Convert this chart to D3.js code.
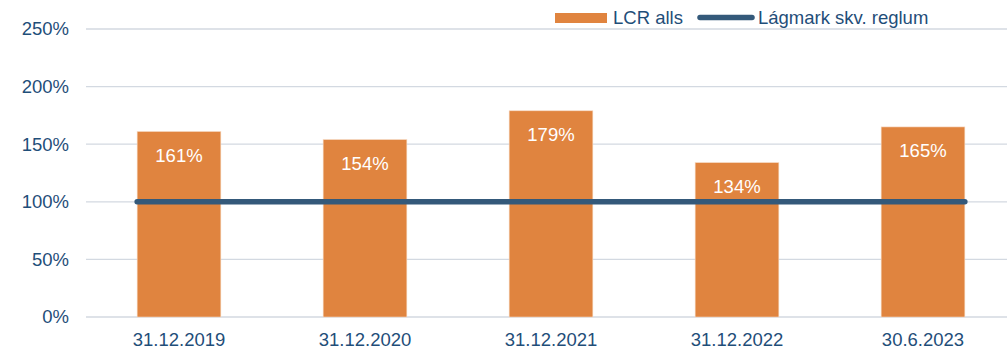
<!DOCTYPE html>
<html>
<head>
<meta charset="utf-8">
<script src="https://cdn.jsdelivr.net/npm/d3@7"></script>
<style>
  html, body { margin: 0; padding: 0; background: #fff; }
  svg { display: block; font-family: "Liberation Sans", Arial, sans-serif; }
</style>
</head>
<body>
<svg id="chart" width="1007" height="351"></svg>
<script>
// LCR ratio by reporting date, with the regulatory minimum as a reference line
const categories = ["31.12.2019", "31.12.2020", "31.12.2021", "31.12.2022", "30.6.2023"];
const lcrValues = [161, 154, 179, 134, 165];
const minimumValues = [100, 100, 100, 100, 100];
const yTicks = [0, 50, 100, 150, 200, 250];
const seriesNames = ["LCR alls", "Lágmark skv. reglum"];

const barColor = "#e0843f";
const lineColor = "#34597a";
const textColor = "#1f4e79";
const gridColor = "#d3d9e1";
const fontSize = 18.5;

const svg = d3.select("#chart");
const plot = { left: 86, right: 1016, top: 29, bottom: 317 };

const x = d3.scaleBand().domain(categories).range([plot.left, plot.right]).paddingInner(0.55).paddingOuter(0.275);
const y = d3.scaleLinear().domain([0, 250]).range([plot.bottom, plot.top]);

// Horizontal gridlines
svg.append("g").selectAll("line").data(yTicks).join("line")
  .attr("x1", plot.left).attr("x2", 1007)
  .attr("y1", d => y(d)).attr("y2", d => y(d))
  .attr("stroke", gridColor).attr("stroke-width", 1.3);

// Y axis labels
svg.append("g").selectAll("text").data(yTicks).join("text")
  .attr("x", 69).attr("y", d => y(d)).attr("dy", "0.35em")
  .attr("text-anchor", "end").attr("fill", textColor).attr("font-size", fontSize)
  .text(d => d + "%");

// X axis labels
svg.append("g").selectAll("text").data(categories).join("text")
  .attr("x", d => x(d) + x.bandwidth() / 2).attr("y", 346)
  .attr("text-anchor", "middle").attr("fill", textColor).attr("font-size", fontSize)
  .text(d => d);

// Bars
svg.append("g").selectAll("rect").data(lcrValues).join("rect")
  .attr("x", (d, i) => x(categories[i]))
  .attr("y", d => y(d))
  .attr("width", x.bandwidth())
  .attr("height", d => y(0) - y(d))
  .attr("fill", barColor)
  .attr("stroke", "#f6d9c2").attr("stroke-width", 0.6);

// Value labels inside bars
svg.append("g").selectAll("text").data(lcrValues).join("text")
  .attr("x", (d, i) => x(categories[i]) + x.bandwidth() / 2)
  .attr("y", d => y(d) + 30.5)
  .attr("text-anchor", "middle").attr("fill", "#ffffff").attr("font-size", fontSize)
  .text(d => d + "%");

// Minimum requirement line, spanning from the first bar's left edge to the last bar's right edge
const linePts = minimumValues.map((v, i) => {
  let px = x(categories[i]) + x.bandwidth() / 2;
  if (i === 0) px = x(categories[i]);
  if (i === minimumValues.length - 1) px = x(categories[i]) + x.bandwidth();
  return [px, y(v)];
});
svg.append("path")
  .attr("d", d3.line()(linePts))
  .attr("fill", "none").attr("stroke", lineColor)
  .attr("stroke-width", 5.5).attr("stroke-linecap", "round");

// Legend
const legend = svg.append("g");
legend.append("rect").attr("x", 555).attr("y", 13).attr("width", 52).attr("height", 10).attr("fill", barColor);
legend.append("text").attr("x", 613).attr("y", 24)
  .attr("fill", textColor).attr("font-size", fontSize).text(seriesNames[0]);
legend.append("line").attr("x1", 700).attr("x2", 752).attr("y1", 17.5).attr("y2", 17.5)
  .attr("stroke", lineColor).attr("stroke-width", 5.5).attr("stroke-linecap", "round");
legend.append("text").attr("x", 758).attr("y", 24)
  .attr("fill", textColor).attr("font-size", fontSize).text(seriesNames[1]);
</script>
</body>
</html>
